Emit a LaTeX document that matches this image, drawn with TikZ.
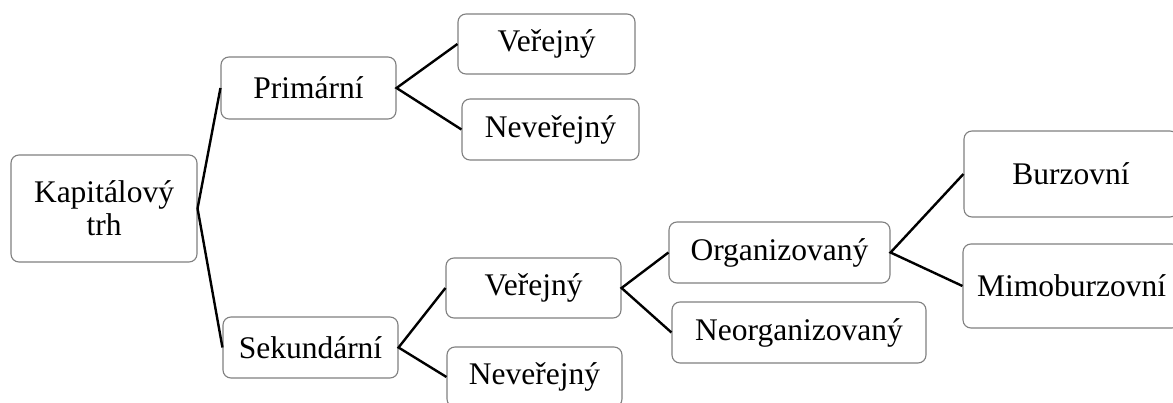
\documentclass[tikz,border=0pt]{standalone}
\usepackage{fontspec}
\setmainfont{Liberation Serif}
\begin{document}
\begin{tikzpicture}[x=1pt,y=-1pt,
  box/.style={draw=black!50,line width=1.1pt,rounded corners=8pt,fill=white,inner sep=0pt,
    align=center,font=\fontsize{31.5}{33}\selectfont},
  link/.style={line width=2.4pt,black}]
\useasboundingbox (0,0) rectangle (1173,403);
\node[box,minimum width=186pt,minimum height=107pt] (K) at (104,208.5) {Kapitálový\\trh};
\node[box,minimum width=175pt,minimum height=62pt] (P) at (308.5,88) {Primární};
\node[box,minimum width=175pt,minimum height=61pt] (S) at (310.5,347.5) {Sekundární};
\node[box,minimum width=177pt,minimum height=60pt] (V1) at (546.5,44) {Veřejný};
\node[box,minimum width=177pt,minimum height=61pt] (N1) at (550.5,129.5) {Neveřejný};
\node[box,minimum width=175pt,minimum height=60pt] (V2) at (533.5,288) {Veřejný};
\node[box,minimum width=175pt,minimum height=60pt] (N2) at (534.5,377) {Neveřejný};
\node[box,minimum width=221pt,minimum height=61pt] (O) at (779.5,252.5) {Organizovaný};
\node[box,minimum width=254pt,minimum height=61pt] (NO) at (799,332.5) {Neorganizovaný};
\node[box,minimum width=214pt,minimum height=86pt] (B) at (1071,174) {Burzovní};
\node[box,minimum width=217pt,minimum height=84pt] (M) at (1071.5,286) {Mimoburzovní};
\draw[link] (P.west) -- (K.east) -- (S.west);
\draw[link] (V1.west) -- (P.east) -- (N1.west);
\draw[link] (V2.west) -- (S.east) -- (N2.west);
\draw[link] (O.west) -- (V2.east) -- (NO.west);
\draw[link] (B.west) -- (O.east) -- (M.west);
\end{tikzpicture}
\end{document}
